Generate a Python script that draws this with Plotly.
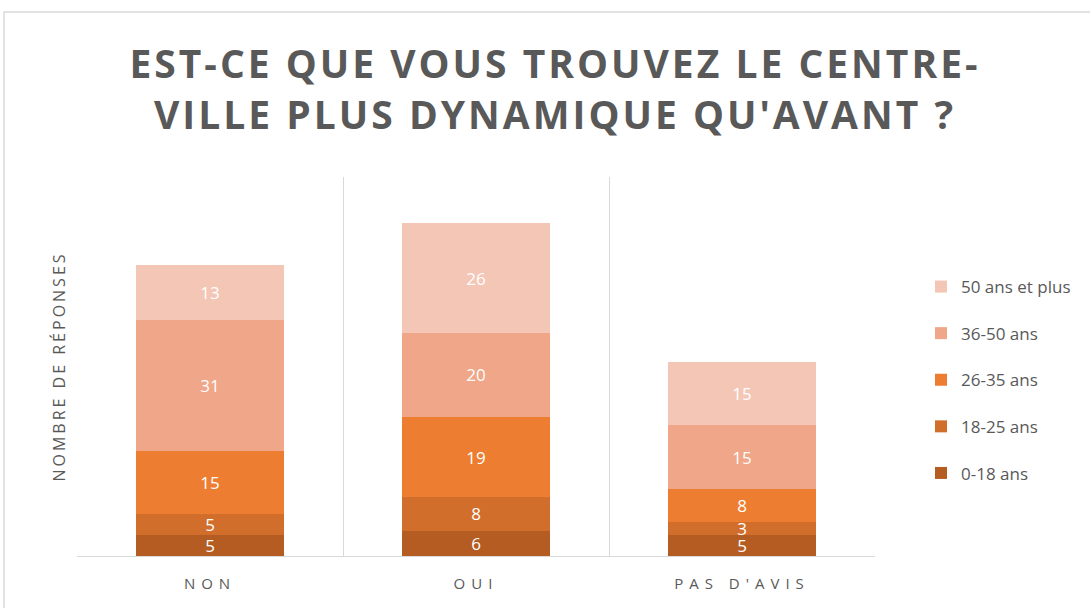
import plotly.graph_objects as go

categories = ["NON", "OUI", "PAS D'AVIS"]
series_names = ["0-18 ans", "18-25 ans", "26-35 ans", "36-50 ans", "50 ans et plus"]
values_0_18 = [5, 6, 5]
values_18_25 = [5, 8, 3]
values_26_35 = [15, 19, 8]
values_36_50 = [31, 20, 15]
values_50_plus = [13, 26, 15]
series_values = [values_0_18, values_18_25, values_26_35, values_36_50, values_50_plus]
colors = ["#B45C22", "#D26E2B", "#ED7D31", "#F0A688", "#F4C6B6"]

fig = go.Figure()
for i, (name, vals, col) in enumerate(zip(series_names, series_values, colors)):
    fig.add_trace(go.Bar(
        x=categories, y=vals, name=name, legendgroup=name, legendrank=10 - i,
        marker=dict(color=col, line=dict(width=0)),
        text=[str(v) for v in vals], textposition="inside", textangle=0,
        insidetextanchor="middle",
        textfont=dict(color="white", size=17, family="Open Sans"),
        constraintext="none",
    ))

GRAY = "#595959"
fig.update_layout(
    barmode="stack",
    bargap=0.44,
    width=1090, height=608,
    paper_bgcolor="white", plot_bgcolor="white",
    margin=dict(l=77, r=215, t=177, b=52),
    uniformtext=dict(minsize=17, mode="show"),
    title=dict(
        text="EST-CE QUE VOUS TROUVEZ LE CENTRE-<br>VILLE PLUS DYNAMIQUE QU'AVANT ?",
        x=555/1090, xanchor="center", y=1-78/608, yanchor="top",
        font=dict(family="Open Sans", size=39, color=GRAY, weight="bold"),
    ),
    font=dict(family="Open Sans", color=GRAY),
    legend=dict(
        x=(921-77)/798, xanchor="left", y=(556-269)/379, yanchor="top",
        traceorder="grouped", tracegroupgap=21.5,
        font=dict(size=17, color=GRAY, family="Open Sans"),
        itemwidth=30, bgcolor="rgba(0,0,0,0)",
    ),
    showlegend=True,
)
fig.update_xaxes(
    type="category", tickson="boundaries", showgrid=True, gridcolor="#D9D9D9", gridwidth=1,
    showline=True, linecolor="#D9D9D9", linewidth=1, ticks="",
    tickfont=dict(size=15, color=GRAY, family="Open Sans"), ticklabelstandoff=14,
)
fig.update_yaxes(
    range=[0, 90], showgrid=False, showticklabels=False, zeroline=False, ticks="",
    title=dict(text="NOMBRE DE RÉPONSES", font=dict(size=16, color=GRAY, family="Open Sans"), standoff=6),
)
fig.add_shape(type="rect", xref="paper", yref="paper",
              x0=(4-77)/798, x1=1.5, y0=-0.5, y1=(556-12)/379,
              line=dict(color="#D9D9D9", width=1.5), layer="below")

post = """
document.body.style.margin = '0';
function spacing(){
  document.querySelectorAll('.gtitle').forEach(function(e){e.style.letterSpacing='3px';});
  document.querySelectorAll('.xtick text').forEach(function(e){e.style.letterSpacing='6px';});
  document.querySelectorAll('.ytitle').forEach(function(e){e.style.letterSpacing='3px';});
}
spacing();
"""
fig.write_html("out.html", post_script=post, config={"displayModeBar": False})
